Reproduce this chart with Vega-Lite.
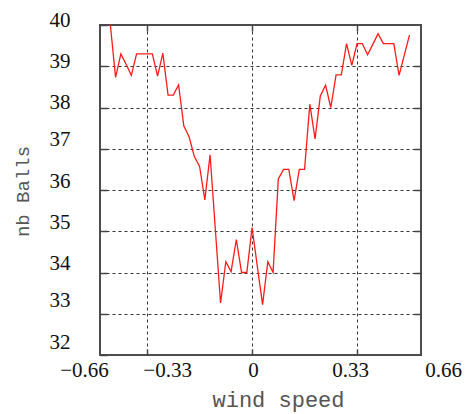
{
  "$schema": "https://vega.github.io/schema/vega-lite/v6.json",
  "width": 321,
  "height": 330,
  "autosize": {"type": "none"},
  "padding": {"left": 100, "top": 25, "right": 49, "bottom": 59},
  "background": "white",
  "config": {
    "view": {"stroke": "#4d4d4d", "strokeWidth": 2},
    "axis": {"domain": false, "labelFont": "Liberation Serif, Times New Roman, serif", "labelFontSize": 21, "labelColor": "#111", "titleFont": "Liberation Mono", "titleFontWeight": "normal", "titleColor": "#555"}
  },
  "data": {"values": [
    {"wind": -0.4455, "balls": 40.0},
    {"wind": -0.429, "balls": 38.73},
    {"wind": -0.4125, "balls": 39.3},
    {"wind": -0.396, "balls": 39.05},
    {"wind": -0.3795, "balls": 38.78},
    {"wind": -0.363, "balls": 39.3},
    {"wind": -0.3465, "balls": 39.3},
    {"wind": -0.33, "balls": 39.3},
    {"wind": -0.3135, "balls": 39.3},
    {"wind": -0.297, "balls": 38.76},
    {"wind": -0.2805, "balls": 39.32},
    {"wind": -0.264, "balls": 38.3},
    {"wind": -0.2475, "balls": 38.3},
    {"wind": -0.231, "balls": 38.55},
    {"wind": -0.2145, "balls": 37.55},
    {"wind": -0.198, "balls": 37.29},
    {"wind": -0.1815, "balls": 36.81},
    {"wind": -0.165, "balls": 36.57},
    {"wind": -0.1485, "balls": 35.76},
    {"wind": -0.132, "balls": 36.85},
    {"wind": -0.1155, "balls": 35.05},
    {"wind": -0.099, "balls": 33.26},
    {"wind": -0.0825, "balls": 34.26},
    {"wind": -0.066, "balls": 34.02},
    {"wind": -0.0495, "balls": 34.8},
    {"wind": -0.033, "balls": 34.0},
    {"wind": -0.0165, "balls": 34.0},
    {"wind": 0.0, "balls": 35.09},
    {"wind": 0.0165, "balls": 34.15},
    {"wind": 0.033, "balls": 33.22},
    {"wind": 0.0495, "balls": 34.26},
    {"wind": 0.066, "balls": 34.0},
    {"wind": 0.0825, "balls": 36.27},
    {"wind": 0.099, "balls": 36.5},
    {"wind": 0.1155, "balls": 36.5},
    {"wind": 0.132, "balls": 35.74},
    {"wind": 0.1485, "balls": 36.5},
    {"wind": 0.165, "balls": 36.5},
    {"wind": 0.1815, "balls": 38.08},
    {"wind": 0.198, "balls": 37.24},
    {"wind": 0.2145, "balls": 38.28},
    {"wind": 0.231, "balls": 38.54},
    {"wind": 0.2475, "balls": 38.0},
    {"wind": 0.264, "balls": 38.79},
    {"wind": 0.2805, "balls": 38.79},
    {"wind": 0.297, "balls": 39.55},
    {"wind": 0.3135, "balls": 39.02},
    {"wind": 0.33, "balls": 39.55},
    {"wind": 0.3465, "balls": 39.55},
    {"wind": 0.363, "balls": 39.28},
    {"wind": 0.3795, "balls": 39.53},
    {"wind": 0.396, "balls": 39.79},
    {"wind": 0.4125, "balls": 39.55},
    {"wind": 0.429, "balls": 39.55},
    {"wind": 0.4455, "balls": 39.55},
    {"wind": 0.462, "balls": 38.78},
    {"wind": 0.4785, "balls": 39.27},
    {"wind": 0.495, "balls": 39.76}
  ]},
  "layer": [
    {
      "mark": {"type": "line", "color": "#ff1a1a", "strokeWidth": 1.3, "clip": true},
      "encoding": {
        "x": {"field": "wind", "type": "quantitative", "scale": {"domain": [-0.478, 0.531], "nice": false, "zero": false},
          "axis": {"orient": "bottom", "values": [-0.33, 0, 0.33], "labels": false, "grid": true, "gridDash": [3, 3], "gridColor": "#333", "gridWidth": 1, "ticks": true, "tickSize": -6, "tickColor": "#444", "tickWidth": 1.5, "title": null}},
        "y": {"field": "balls", "type": "quantitative", "scale": {"domain": [32, 40], "nice": false, "zero": false},
          "axis": {"orient": "left", "values": [32, 33, 34, 35, 36, 37, 38, 39, 40], "grid": false, "ticks": true, "tickSize": -7, "tickColor": "#444", "tickWidth": 1.5,
            "labelFont": "Liberation Serif, Times New Roman, serif", "labelExpr": "datum.label",
            "labelOffset": {"condition": [{"test": "datum.value >= 38", "value": -5}, {"test": "datum.value >= 34", "value": -9}], "value": -13},
            "labelPadding": 37, "title": "nb Balls", "titleFontSize": 19, "titleX": -78, "titleY": 166, "titleBaseline": "middle"}}
      }
    },
    {
      "mark": {"type": "line", "strokeOpacity": 0},
      "encoding": {
        "x": {"field": "wind", "type": "quantitative",
          "axis": {"orient": "top", "values": [-0.33, 0, 0.33], "labels": false, "grid": false, "ticks": true, "tickSize": -6, "tickColor": "#444", "tickWidth": 1.5, "title": null}},
        "y": {"field": "balls", "type": "quantitative",
          "axis": {"orient": "right", "values": [33, 34, 35, 36, 37, 38, 39], "labels": false, "grid": true, "gridDash": [3, 3], "gridColor": "#333", "gridWidth": 1, "ticks": true, "tickSize": -7, "tickColor": "#444", "tickWidth": 1.5, "title": null}}
      }
    },
    {
      "mark": {"type": "line", "strokeOpacity": 0},
      "encoding": {
        "x": {"field": "wind", "type": "quantitative",
          "axis": {"orient": "bottom", "values": [-0.478, -0.33, 0, 0.33, 0.531], "grid": false, "ticks": false, "labelPadding": 4,
            "labelFont": "Liberation Serif, Times New Roman, serif",
            "labelExpr": "datum.value < -0.4 ? '−0.66' : datum.value < -0.2 ? '−0.33' : datum.value < 0.1 ? '0' : datum.value < 0.4 ? '0.33' : '0.66'",
            "labelOffset": {"condition": [{"test": "datum.value < -0.4", "value": -16}, {"test": "datum.value < -0.2", "value": 20}, {"test": "datum.value < 0.1", "value": 1}, {"test": "datum.value < 0.4", "value": -7}], "value": 22},
            "labelFlush": false, "labelOverlap": false,
            "title": "wind speed", "titleFontSize": 22, "titleX": 178, "titleY": 44, "titleBaseline": "middle"}},
        "y": {"field": "balls", "type": "quantitative", "axis": null}
      }
    }
  ],
  "resolve": {"axis": {"x": "independent", "y": "independent"}}
}
